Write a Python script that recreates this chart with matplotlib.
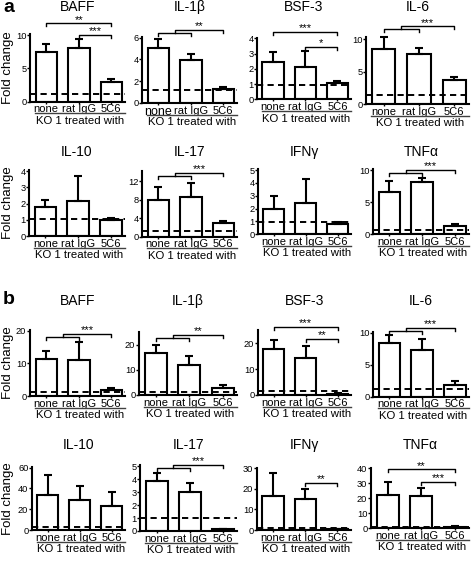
import numpy as np
import matplotlib.pyplot as plt
import matplotlib.transforms as mtrans

plt.rcParams['font.family'] = ['Liberation Sans', 'DejaVu Sans']

W, H = 472, 563
groups = ['none', 'rat IgG', '5C6']

# ---- panel a ----
a_names = ['BAFF', 'IL-1β', 'BSF-3', 'IL-6', 'IL-10', 'IL-17', 'IFNγ', 'TNFα']
a_mean = [[7.4, 8.1, 2.9], [5.0, 3.95, 1.3], [2.47, 2.14, 1.05], [8.45, 7.7, 3.7],
          [1.77, 2.15, 0.98], [7.9, 8.6, 2.9], [1.94, 2.4, 0.78], [6.5, 8.1, 1.3]]
a_err = [[1.2, 1.25, 0.5], [0.9, 0.5, 0.15], [0.66, 1.0, 0.17], [1.95, 1.0, 0.4],
         [0.43, 1.55, 0.15], [2.75, 2.9, 0.5], [1.06, 1.9, 0.15], [1.8, 0.7, 0.25]]
a_base = [1.1, 1.2, 0.95, 1.4, 1.05, 1.3, 0.95, 0.55]
a_ymax = [10.2, 6.1, 4.05, 10.3, 4.05, 14.2, 5.05, 10.1]
a_yticks = [[0, 5, 10], [0, 2, 4, 6], [0, 1, 2, 3, 4], [0, 5, 10],
            [0, 1, 2, 3, 4], [0, 4, 8, 12], [0, 1, 2, 3, 4, 5], [0, 5, 10]]
a_sig = [[('pair', 0, 2, 11.75, '**'), ('pair', 1, 2, 10.0, '***')],
         [('group', 6.4, '**')],
         [('pair', 0, 2, 4.44, '***'), ('pair', 1, 2, 3.45, '*')],
         [('group', 11.55, '***')],
         [],
         [('group', 13.1, '***')],
         [],
         [('group', 9.5, '***')]]

# ---- panel b ----
b_names = ['BAFF', 'IL-1β', 'BSF-3', 'IL-6', 'IL-10', 'IL-17', 'IFNγ', 'TNFα']
b_mean = [[11.4, 11.1, 1.8], [16.7, 12.0, 2.7], [17.7, 14.5, 0.5], [8.4, 7.3, 1.8],
          [33.7, 28.8, 23.0], [3.85, 3.03, 0.12], [16.5, 15.1, 0.3], [22.2, 21.8, 1.0]]
b_err = [[2.4, 5.4, 0.8], [3.3, 3.6, 1.3], [3.6, 4.5, 0.2], [1.2, 1.65, 0.7],
         [19.2, 13.8, 13.9], [0.65, 0.64, 0.04], [11.4, 4.7, 0.1], [8.8, 4.9, 0.3]]
b_base = [1.3, 1.1, 1.4, 1.15, 2.5, 1.0, 0.9, 1.1]
b_ymax = [20.3, 25.3, 25.2, 10.1, 60.5, 5.05, 30.3, 40.5]
b_yticks = [[0, 10, 20], [0, 10, 20], [0, 10, 20], [0, 5, 10],
            [0, 20, 40, 60], [0, 1, 2, 3, 4, 5], [0, 10, 20, 30], [0, 10, 20, 30, 40]]
b_sig = [[('group', 18.2, '***')],
         [('group', 22.9, '**')],
         [('pair', 0, 2, 26.5, '***'), ('pair', 1, 2, 21.9, '**')],
         [('group', 10.3, '***')],
         [],
         [('group', 4.87, '***')],
         [('pair', 1, 2, 23.0, '**')],
         [('pair', 0, 2, 39.3, '**'), ('pair', 1, 2, 31.1, '***')]]

# layout in pixels: left spine, right end, zero line, top of y range
a_box = [(30, 125, 101.7, 33.7), (142, 237, 103, 36.5), (257, 351, 99.3, 37.5), (366, 469, 104, 37.4),
         (29, 125, 236, 170.2), (142, 237, 236.7, 170.8), (258, 351, 234.3, 169.4), (373, 469, 234, 169.4)]
b_box = [(30, 125, 396, 330), (139, 237, 395, 331.7), (258, 351, 395, 330), (373, 469, 396.7, 332),
         (32, 125, 530, 467), (140, 237, 531, 465.4), (257, 351, 530, 467.7), (371, 469, 528.3, 467.5)]
a_title_y = [7, 7, 7, 7, 152, 152, 152, 152]
b_title_y = [301, 301, 301, 301, 445, 445, 445, 445]

fig = plt.figure(figsize=(W / 100, H / 100), dpi=100)
x = np.arange(3)


def bracket(ax, x0, x1, y, drop, label):
    ax.plot([x0, x0, x1, x1], [y - drop, y, y, y - drop], color='black', lw=1,
            clip_on=False, zorder=5)
    if label:
        ax.annotate(label, xy=((x0 + x1) / 2, y), xytext=(0, 0.5), textcoords='offset points',
                    ha='center', va='baseline', fontsize=8, annotation_clip=False)


def draw(box, name, ty, mean, err, base, ymax, yticks, sigs, first_col, special=False):
    l, r, z, t = box
    ax = fig.add_axes([l / W, 1 - z / H, (r - l) / W, (z - t) / H])
    ax.bar(x, mean, width=0.66, color='white', edgecolor='black', linewidth=1.5, zorder=2)
    ax.errorbar(x, mean, yerr=[np.zeros(3), err], fmt='none', ecolor='black',
                elinewidth=1.5, capsize=3, capthick=1.5, zorder=3, clip_on=False)
    ax.axhline(base, color='black', lw=1.4, ls=(0, (3.2, 2.2)), zorder=4)
    ax.set_xlim(-0.5, 2.42)
    ax.set_ylim(0, ymax)
    ax.set_yticks(yticks)
    ax.tick_params(axis='y', labelsize=6.7, length=2, width=1, pad=0.6)
    ax.set_xticks(x, groups, fontsize=8)
    ax.tick_params(axis='x', length=1.5, width=1, pad=0.4)
    if special:
        ax.get_xticklabels()[0].set_fontsize(9)
    for s in ['top', 'right']:
        ax.spines[s].set_visible(False)
    for s in ['left', 'bottom']:
        ax.spines[s].set_linewidth(1.5)
    px = (z - t) / ymax  # pixels per unit
    drop = 3 / px
    for s in sigs:
        if s[0] == 'pair':
            bracket(ax, s[1], s[2], s[3], drop, s[4])
        else:
            bracket(ax, 0, 1, s[1], drop, None)
            bracket(ax, 0.5, 2, s[1] + drop, drop, s[2])
    off = mtrans.ScaledTranslation(0, -11.7 / 100, fig.dpi_scale_trans)
    ax.plot([-0.35, 2.42], [0, 0], color='0.25', lw=1, clip_on=False,
            transform=ax.get_xaxis_transform() + off)
    ax.annotate('KO 1 treated with', xy=(1.03, 0), xycoords=('data', 'axes fraction'),
                xytext=(0, -19.2 * 0.72), textcoords='offset points', ha='center',
                va='center', fontsize=8.2, annotation_clip=False)
    fig.text((l + r) / 2 / W, 1 - ty / H, name, ha='center', va='center', fontsize=10)
    if first_col:
        fig.text(8.5 / W, 1 - (z + t) / 2 / H, 'Fold change', rotation=90,
                 ha='center', va='center', fontsize=9.5)
    return ax


for i in range(8):
    draw(a_box[i], a_names[i], a_title_y[i], a_mean[i], a_err[i], a_base[i], a_ymax[i],
         a_yticks[i], a_sig[i], i % 4 == 0, special=(i == 1))
    draw(b_box[i], b_names[i], b_title_y[i], b_mean[i], b_err[i], b_base[i], b_ymax[i],
         b_yticks[i], b_sig[i], i % 4 == 0)

fig.text(3 / W, 1 - 7 / H, 'a', fontsize=14, fontweight='bold', ha='left', va='center')
fig.text(3 / W, 1 - 300 / H, 'b', fontsize=14, fontweight='bold', ha='left', va='center')

fig.savefig('out.png', dpi=100)
